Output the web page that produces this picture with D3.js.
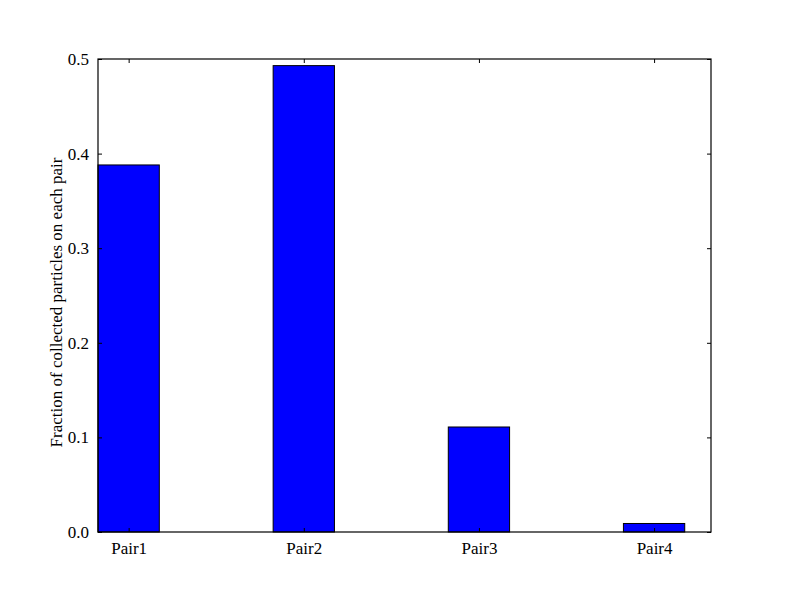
<!DOCTYPE html>
<html>
<head>
<meta charset="utf-8">
<script src="https://cdn.jsdelivr.net/npm/d3@7"></script>
<style>
  html, body { margin: 0; padding: 0; background: #fff; }
</style>
</head>
<body>
<svg id="chart" width="789" height="592"></svg>
<script>
// data
const pairs  = ["Pair1", "Pair2", "Pair3", "Pair4"];
const values = [0.388, 0.493, 0.111, 0.009];
const yTicks = [0.0, 0.1, 0.2, 0.3, 0.4, 0.5];

const FONT = "Liberation Serif";
const M = { top: 59, right: 78, bottom: 60, left: 98 };
const VW = 789, VH = 592;
const W = VW - M.left - M.right;
const H = VH - M.top - M.bottom;
const BAR_W = 0.35;

const svg = d3.select("#chart");
const g = svg.append("g").attr("transform", `translate(${M.left},${M.top})`);

const x = d3.scaleLinear().domain([0, 3.5]).range([0, W]);
const y = d3.scaleLinear().domain([0, 0.5]).range([H, 0]);

// bars
g.selectAll("rect.bar")
  .data(values)
  .join("rect")
  .attr("class", "bar")
  .attr("x", (d, i) => x(i))
  .attr("y", d => y(d))
  .attr("width", x(BAR_W) - x(0))
  .attr("height", d => y(0) - y(d))
  .attr("fill", "#0000ff")
  .attr("stroke", "#000")
  .attr("stroke-width", 1);

// axes (ticks pointing inward, mirrored on top/right)
const tickPos = pairs.map((p, i) => i + BAR_W / 2);
const fmt = d3.format(".1f");

const axBottom = g.append("g").attr("transform", `translate(0,${H})`)
  .call(d3.axisBottom(x).tickValues(tickPos).tickFormat((d, i) => pairs[i])
    .tickSizeInner(-4).tickSizeOuter(0).tickPadding(10));
const axTop = g.append("g")
  .call(d3.axisTop(x).tickValues(tickPos).tickFormat("")
    .tickSizeInner(-4).tickSizeOuter(0));
const axLeft = g.append("g")
  .call(d3.axisLeft(y).tickValues(yTicks).tickFormat(fmt)
    .tickSizeInner(-4).tickSizeOuter(0).tickPadding(9));
const axRight = g.append("g").attr("transform", `translate(${W},0)`)
  .call(d3.axisRight(y).tickValues(yTicks).tickFormat("")
    .tickSizeInner(-4).tickSizeOuter(0));

[axBottom, axTop, axLeft, axRight].forEach(ax => {
  ax.attr("font-family", FONT).attr("font-size", 17);
  ax.select(".domain").remove();
  ax.selectAll("line").attr("stroke", "#000").attr("stroke-width", 1);
  ax.selectAll("text").attr("fill", "#000");
});

// frame
g.append("rect")
  .attr("width", W).attr("height", H)
  .attr("fill", "none").attr("stroke", "#000").attr("stroke-width", 1.2);

// y label
svg.append("text")
  .attr("transform", `translate(62,${M.top + H / 2 + 7}) rotate(-90)`)
  .attr("text-anchor", "middle")
  .attr("font-family", FONT)
  .attr("font-size", 17)
  .attr("fill", "#000")
  .text("Fraction of collected particles on each pair");
</script>
</body>
</html>
